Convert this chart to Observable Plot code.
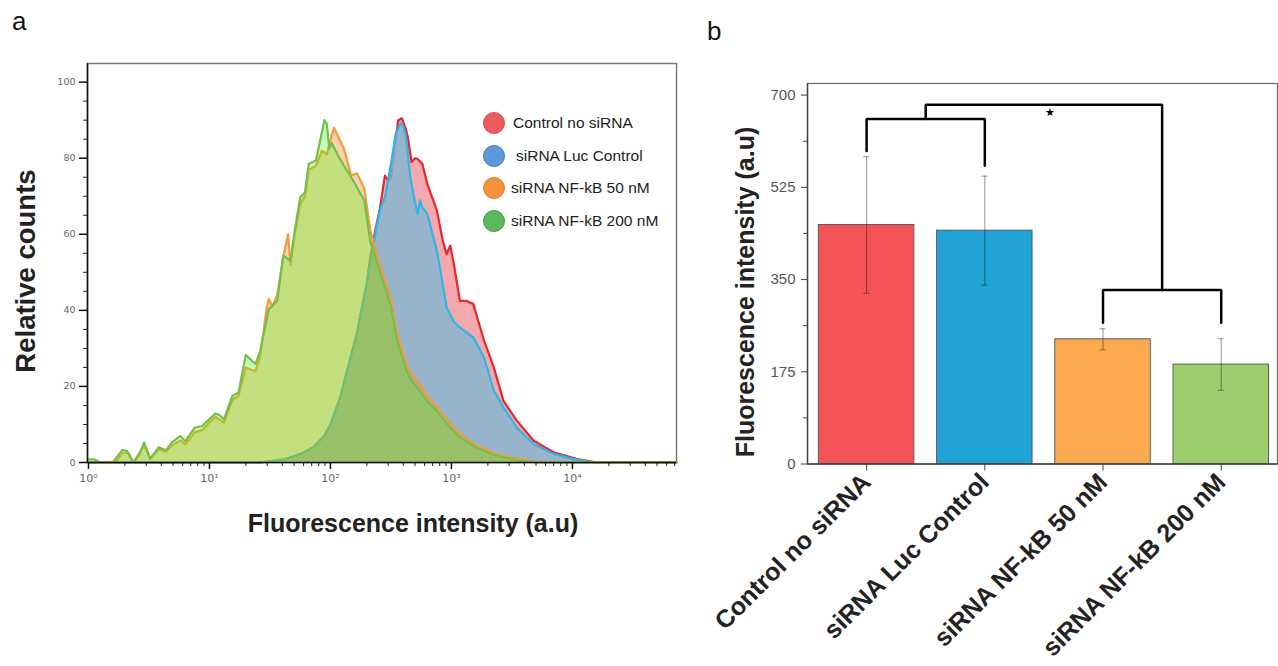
<!DOCTYPE html>
<html><head><meta charset="utf-8">
<script src="https://cdn.jsdelivr.net/npm/d3@7"></script>
<script src="https://cdn.jsdelivr.net/npm/@observablehq/plot@0.6"></script>
<style>
html,body{margin:0;padding:0;background:#fff;}
#fig{position:relative;width:1278px;height:666px;overflow:hidden;font-family:"Liberation Sans",Arial,sans-serif;background:#fff;}
.abs{position:absolute;}
.letter{font-size:26px;color:#111;line-height:1;}
.title{font-weight:bold;font-size:25px;color:#222;white-space:nowrap;line-height:1;}
.rot{transform:translate(-50%,-50%) rotate(-90deg);}
.legend-item{position:absolute;height:24px;display:flex;align-items:center;font-size:15.5px;color:#222;white-space:nowrap;}
.legend-item span.dot{display:inline-block;width:22px;height:22px;border-radius:50%;box-sizing:border-box;}
.legend-item span.lab{position:absolute;}
#panelA, #panelB{position:absolute;top:0;}
#panelA{left:0;}
#panelB{left:690px;}
#panelB g[aria-label="x-axis tick label"] text{font-weight:bold;}
</style></head>
<body><div id="fig">
  <div id="panelA"></div>
  <div id="panelB"></div>
</div>
<script>
// ---------- Panel a: flow cytometry histograms (x = log10 fluorescence, y = relative counts)
const controlCurve = [[0,0],[1.42,0],[1.55,0.5],[1.64,1],[1.75,2.2],[1.86,4],[1.95,7],[2.0,10],[2.08,17],[2.17,28],[2.22,34],[2.25,39],[2.30,47],[2.33,54],[2.37,61],[2.41,67],[2.45,75.4],[2.48,74],[2.50,75],[2.54,85],[2.56,90],[2.59,90.5],[2.62,88],[2.64,85.5],[2.67,79],[2.70,80],[2.72,79.8],[2.76,78.5],[2.80,73.3],[2.88,66.2],[2.93,58],[2.96,54.8],[2.99,57],[3.02,52.2],[3.07,42.5],[3.12,42.5],[3.18,41.7],[3.27,32],[3.35,25],[3.43,16.2],[3.54,11],[3.68,5.7],[3.85,2.6],[4.04,0.9],[4.20,0],[4.86,0]];
const lucCurve = [[0,0],[1.42,0],[1.55,0.5],[1.64,1],[1.75,2.2],[1.86,4],[1.95,7],[2.0,10],[2.08,17],[2.17,28],[2.22,34],[2.25,39],[2.30,47],[2.33,53],[2.37,60],[2.41,66.5],[2.45,69.7],[2.50,78.5],[2.54,86.5],[2.58,89.2],[2.60,88.5],[2.62,86.5],[2.66,75],[2.69,69.7],[2.72,65.4],[2.74,68.9],[2.76,67],[2.80,65.4],[2.88,55.7],[2.96,40.8],[3.02,37],[3.07,35.5],[3.18,32.9],[3.27,27.6],[3.35,18.9],[3.43,14.5],[3.54,9.2],[3.68,4.8],[3.85,2.2],[4.01,0.9],[4.12,0.3],[4.2,0],[4.86,0]];
const nf50Curve = [[0,0],[0.22,0],[0.28,2.5],[0.33,2.5],[0.37,0],[0.46,4.5],[0.51,1],[0.58,3.5],[0.64,2.8],[0.69,4.5],[0.76,5.8],[0.80,4.8],[0.88,8],[0.94,8.5],[1.0,10.5],[1.05,12],[1.12,10.5],[1.19,16.5],[1.24,17.5],[1.30,25],[1.38,24],[1.42,28],[1.47,40],[1.49,43],[1.52,41],[1.56,44],[1.61,54],[1.65,60],[1.67,52],[1.70,59],[1.75,68],[1.79,70],[1.82,77],[1.88,78],[1.93,82],[1.97,81],[2.01,86],[2.03,88],[2.06,86],[2.11,82.6],[2.17,75.5],[2.22,76],[2.28,72],[2.33,61],[2.37,56],[2.41,52],[2.47,46],[2.50,43],[2.55,34],[2.58,31],[2.63,25.5],[2.66,24],[2.77,19],[2.80,17.5],[2.88,14.5],[2.94,12],[3.07,7.5],[3.20,4.5],[3.35,2.5],[3.54,1],[3.7,0.2],[3.8,0],[4.86,0]];
const nf200Curve = [[0,0.8],[0.05,0.8],[0.1,0],[0.2,0],[0.25,2],[0.28,3.3],[0.32,3],[0.37,0],[0.42,2],[0.46,5.3],[0.51,1],[0.58,4],[0.64,3.2],[0.69,5.3],[0.76,7],[0.80,5.6],[0.88,9.2],[0.94,9.6],[1.0,11.4],[1.05,12.9],[1.08,12.5],[1.12,11.4],[1.19,17.5],[1.24,18.4],[1.30,28.3],[1.38,25.9],[1.42,29.4],[1.49,40.3],[1.56,42.5],[1.61,54.4],[1.67,53],[1.70,60],[1.75,69.7],[1.79,71],[1.82,78.5],[1.88,79.4],[1.95,90],[1.97,89],[1.99,82.5],[2.01,84],[2.07,80.3],[2.12,77.6],[2.19,74],[2.28,68.9],[2.33,58],[2.37,54],[2.41,50],[2.47,44],[2.50,41],[2.55,32],[2.58,29],[2.63,24],[2.66,22],[2.77,17.5],[2.80,16],[2.88,13.5],[2.94,11],[3.07,6.6],[3.20,4],[3.35,2],[3.54,0.6],[3.7,0],[4.86,0]];
const seriesNames = ["Control no siRNA", "siRNA Luc Control", "siRNA NF-kB 50 nM", "siRNA NF-kB 200 nM"];
const histYTicks = [0, 20, 40, 60, 80, 100];
const histXDecades = [0, 1, 2, 3, 4];

// ---------- Panel b: mean fluorescence intensity bars
const barCategories = ["Control no siRNA", "siRNA Luc Control", "siRNA NF-kB 50 nM", "siRNA NF-kB 200 nM"];
const barMeans = [453.5, 442.7, 236.6, 188.7];
const barErrors = [129.5, 103.5, 20, 49];
const barYTicks = [0, 175, 350, 525, 700];
// significance brackets (x = category index, y = a.u.)
const bracketPairA = [[0, 594], [0, 654.5], [1, 654.5], [1, 566]];
const bracketPairB = [[2, 268], [2, 330], [3, 330], [3, 268]];
const bracketTop = [[0.5, 654.5], [0.5, 681.6], [2.5, 681.6], [2.5, 330]];
const starMark = [[1.55, 667, "★"]];

// ---------- styles
const histStyles = [
  {fill: "#e8333a", fillOpacity: 0.42, stroke: "#e8262d"},
  {fill: "#7fb6d3", fillOpacity: 0.8, stroke: "#2cb5e8"},
  {fill: "#f0913c", fillOpacity: 0.42, stroke: "#f39a3d"},
  {fill: "#46ff14", fillOpacity: 0.3, stroke: "#72c04c"}
];
const legendColors = [["#ec5b60", "#d84a50"], ["#5f98d6", "#3f7fc0"], ["#f2923e", "#e07e28"], ["#5cb85c", "#3f9d3f"]];
const barFill = ["#f45458", "#22a3d6", "#fcaa50", "#9dce6e"];

const curves = [controlCurve, lucCurve, nf50Curve, nf200Curve];
const sup = {"0": "⁰", "1": "¹", "2": "²", "3": "³", "4": "⁴"};
const xDom = [Math.pow(10, -0.008), Math.pow(10, 4.86)];
const minorX = [];
for (const d of histXDecades) for (let k = 2; k <= 9; k++) { const v = k * Math.pow(10, d); if (v < xDom[1]) minorX.push(v); }
const minorY = d3.range(0, 105, 5).filter(v => v % 20 !== 0);

const histMarks = [];
curves.forEach((c, i) => {
  const st = histStyles[i];
  const X = d => Math.pow(10, d[0]), Y = d => d[1];
  histMarks.push(Plot.areaY(c, {x: X, y: Y, fill: st.fill, fillOpacity: st.fillOpacity}));
  histMarks.push(Plot.lineY(c, {x: X, y: Y, stroke: st.stroke, strokeWidth: 2.2, strokeLinejoin: "round"}));
});

const plotA = Plot.plot({
  width: 690, height: 560,
  marginLeft: 87, marginRight: 14, marginTop: 63, marginBottom: 98,
  x: {type: "log", domain: xDom},
  y: {domain: [0, 104.9]},
  style: {background: "transparent", fontFamily: "DejaVu Sans, sans-serif", overflow: "visible"},
  marks: [
    Plot.frame({stroke: "#7a7a7a", strokeWidth: 1.5}),
    ...histMarks,
    Plot.axisY({ticks: histYTicks, tickSize: 8, tickPadding: 4, fontSize: 9.5, stroke: "#111", fill: "#666", strokeWidth: 1.5, label: null}),
    Plot.axisY({ticks: minorY, tickSize: 4, tickFormat: () => "", stroke: "#222", label: null}),
    Plot.axisX({ticks: histXDecades.map(d => Math.pow(10, d)), tickFormat: v => "10" + sup[String(Math.round(Math.log10(v)))], tickSize: 7, tickPadding: 5, fontSize: 11, stroke: "#111", fill: "#666", strokeWidth: 1.5, label: null}),
    Plot.axisX({ticks: minorX, tickSize: 4, tickFormat: () => "", stroke: "#222", label: null}),
    Plot.ruleX([xDom[0]], {stroke: "#111", strokeWidth: 1.5}),
    Plot.ruleY([0], {stroke: "#111", strokeWidth: 1.5})
  ]
});
document.getElementById("panelA").appendChild(plotA);

// ---------- Panel b
const barData = barCategories.map((c, i) => ({i, c, v: barMeans[i], e: barErrors[i]}));
const plotB = Plot.plot({
  width: 588, height: 666,
  marginLeft: 117, marginRight: 1, marginTop: 83, marginBottom: 202.5,
  x: {type: "linear", domain: [-0.5, 3.476]},
  y: {domain: [0, 722]},
  style: {background: "transparent", fontFamily: "Liberation Sans, Arial, sans-serif", overflow: "visible"},
  marks: [
    Plot.frame({stroke: "#666", strokeWidth: 1.2}),
    Plot.rectY(barData, {x1: d => d.i - 0.404, x2: d => d.i + 0.404, y1: 0, y2: "v", fill: (d) => barFill[d.i], stroke: "#4a4a4a", strokeOpacity: 0.85, strokeWidth: 1}),
    Plot.ruleX(barData, {x: "i", y1: d => d.v - d.e, y2: d => d.v + d.e, stroke: "#000", strokeOpacity: 0.38, strokeWidth: 1.1}),
    Plot.ruleY(barData, {y: d => d.v + d.e, x1: d => d.i - 0.025, x2: d => d.i + 0.025, stroke: "#000", strokeOpacity: 0.38, strokeWidth: 1.1}),
    Plot.ruleY(barData, {y: d => d.v - d.e, x1: d => d.i - 0.025, x2: d => d.i + 0.025, stroke: "#000", strokeOpacity: 0.38, strokeWidth: 1.1}),
    Plot.line(bracketPairA, {x: d => d[0], y: d => d[1], stroke: "#000", strokeWidth: 2.5, strokeLinejoin: "miter"}),
    Plot.line(bracketPairB, {x: d => d[0], y: d => d[1], stroke: "#000", strokeWidth: 2.5, strokeLinejoin: "miter"}),
    Plot.line(bracketTop, {x: d => d[0], y: d => d[1], stroke: "#000", strokeWidth: 2.5, strokeLinejoin: "miter"}),
    Plot.text(starMark, {x: d => d[0], y: d => d[1], text: d => d[2], fontSize: 11, fill: "#000"}),
    Plot.axisY({ticks: barYTicks, tickSize: 6, tickPadding: 6, fontSize: 15, stroke: "#444", fill: "#555", label: null}),
    Plot.axisY({ticks: [87.5, 262.5, 437.5, 612.5], tickSize: 4, tickFormat: () => "", stroke: "#444", label: null}),
    Plot.axisX({ticks: [0, 1, 2, 3], tickFormat: i => barCategories[i], tickRotate: -45, tickSize: 7, tickPadding: 7, fontSize: 25, fontWeight: "bold", stroke: "#444", fill: "#222", label: null}),
    Plot.ruleY([0], {stroke: "#444", strokeWidth: 1.4}),
    Plot.ruleX([-0.5], {stroke: "#444", strokeWidth: 1.4})
  ]
});
document.getElementById("panelB").appendChild(plotB);

// ---------- text: panel letters, axis titles, legend
const fig = document.getElementById("fig");
function addDiv(cls, text, css) {
  const el = document.createElement("div");
  el.className = "abs " + cls;
  el.textContent = text;
  Object.assign(el.style, css);
  fig.appendChild(el);
  return el;
}
addDiv("letter", "a", {left: "12px", top: "8px"});
addDiv("letter", "b", {left: "707px", top: "18px"});
addDiv("title rot", "Relative counts", {left: "26px", top: "271px", fontSize: "27.5px"});
addDiv("title", "Fluorescence intensity (a.u)", {left: "413px", top: "523px", transform: "translate(-50%,-50%)"});
addDiv("title rot", "Fluorescence intensity (a.u)", {left: "745px", top: "292px"});

const legendOffsets = [20, 23, 18, 18];
seriesNames.forEach((name, i) => {
  const item = document.createElement("div");
  item.className = "legend-item";
  item.style.left = "483px";
  item.style.top = (111 + i * 32.5) + "px";
  const dot = document.createElement("span");
  dot.className = "dot";
  dot.style.background = legendColors[i][0];
  dot.style.border = "1.5px solid " + legendColors[i][1];
  const lab = document.createElement("span");
  lab.className = "lab";
  lab.style.left = (legendOffsets[i] + 10) + "px";
  lab.textContent = name;
  item.appendChild(dot);
  item.appendChild(lab);
  fig.appendChild(item);
});
</script>
</body></html>
